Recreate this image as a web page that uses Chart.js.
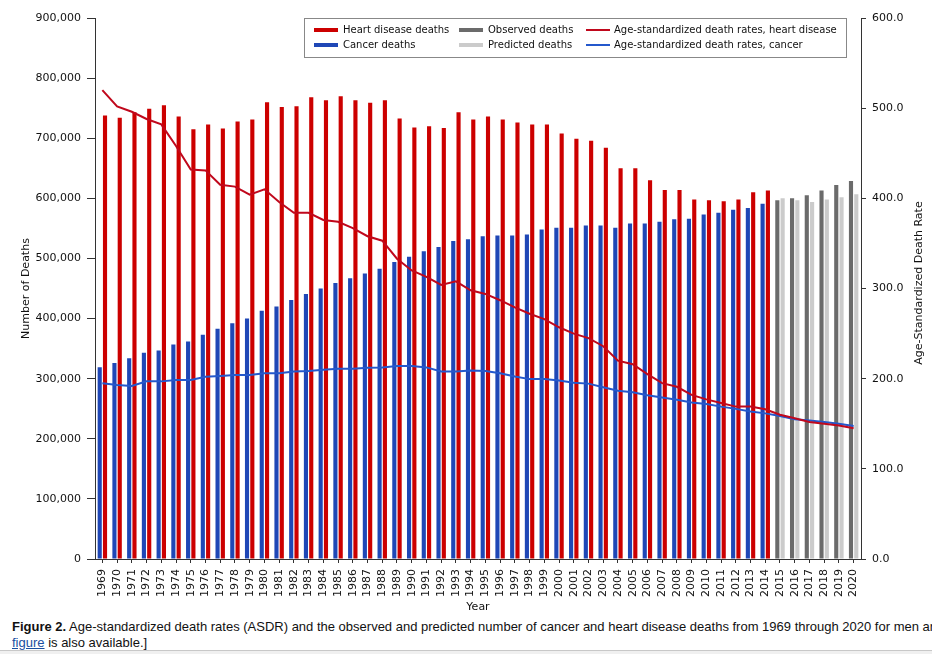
<!DOCTYPE html>
<html>
<head>
<meta charset="utf-8">
<title>Cancer and heart disease deaths, 1969-2020</title>
<script src="https://cdn.jsdelivr.net/npm/chart.js@4.4.1/dist/chart.umd.min.js"></script>
<style>
  html, body { margin: 0; padding: 0; background: #fff; overflow: hidden; }
  #wrap { position: relative; width: 932px; height: 615px; }
  #caption { position: absolute; left: 12px; top: 619px; width: 920px; font: 13px/16px "Liberation Sans", Arial, sans-serif; color: #111; white-space: nowrap; overflow: hidden; }
  #caption a { color: #1a4fa0; text-decoration: underline; }
  #rule { position: absolute; left: 0; top: 650px; width: 932px; height: 4px; background: #f0f0f0; border-top: 1px solid #c8c8c8; }
</style>
</head>
<body>
<div id="wrap"><canvas id="myChart" width="932" height="615"></canvas></div>
<div id="caption"><b>Figure 2.</b> Age-standardized death rates (ASDR) and the observed and predicted number of cancer and heart disease deaths from 1969 through 2020 for men and women.<br><a href="#">figure</a> is also available.]</div>
<div id="rule"></div>
<script>
'use strict';

const years = ['1969', '1970', '1971', '1972', '1973', '1974', '1975', '1976', '1977', '1978', '1979', '1980', '1981', '1982', '1983', '1984', '1985', '1986', '1987', '1988', '1989', '1990', '1991', '1992', '1993', '1994', '1995', '1996', '1997', '1998', '1999', '2000', '2001', '2002', '2003', '2004', '2005', '2006', '2007', '2008', '2009', '2010', '2011', '2012', '2013', '2014', '2015', '2016', '2017', '2018', '2019', '2020'];

// 1969-2014
const heartDeaths = [738000, 734000, 743000, 749000, 755000, 736000, 715000, 723000, 716000, 728000, 731000, 760000, 752000, 753000, 768000, 763000, 770000, 763000, 759000, 763000, 733000, 718000, 720000, 717000, 743000, 731000, 736000, 731000, 726000, 723000, 723000, 708000, 699000, 696000, 684000, 650000, 650000, 630000, 614000, 614000, 598000, 597000, 595000, 598000, 610000, 613000];
const cancerDeaths = [319000, 326000, 334000, 343000, 347000, 357000, 362000, 373000, 383000, 392000, 400000, 413000, 420000, 431000, 441000, 450000, 459000, 467000, 475000, 483000, 494000, 503000, 512000, 519000, 529000, 532000, 537000, 538000, 538000, 540000, 548000, 551000, 551000, 555000, 555000, 551000, 558000, 558000, 561000, 565000, 566000, 573000, 576000, 581000, 584000, 591000];

// 2015-2020
const observedDeaths = [597000, 600000, 605000, 613000, 622000, 629000];
const predictedDeaths = [600000, 597000, 594000, 598000, 602000, 607000];

// 1969-2020, per 100,000
const heartRate = [520, 502, 496, 488, 482, 458, 432, 431, 415, 413, 404, 410, 396, 384, 384, 376, 374, 367, 358, 353, 333, 320, 313, 304, 308, 298, 294, 287, 279, 272, 266, 257, 250, 245, 236, 220, 216, 205, 195, 191, 182, 177, 173, 169, 169, 166, 160, 156, 152, 150, 148, 145];
const cancerRate = [195, 193, 192, 197, 197, 198.5, 198.5, 202, 203, 204, 204, 206, 206, 208, 208.5, 210, 211, 211, 212, 212.5, 214, 214, 212.5, 208, 208, 209, 208.5, 206, 202.5, 199.5, 199.5, 198, 195.5, 194.5, 190.5, 186.5, 185, 181.5, 179, 176.5, 173.5, 172, 169, 166.5, 163.5, 161.5, 158.5, 155, 153.5, 152, 150, 147.5];

const axisColor = '#333';
const textColor = '#111';
const tickFont = { family: 'DejaVu Sans', size: 11 };

function pad(arr, before, after) {
  return Array(before).fill(null).concat(arr, Array(after).fill(null));
}

// legend drawn as a boxed 3x2 grid, like the original
const boxLegend = {
  id: 'boxLegend',
  afterDraw(chart) {
    const ctx = chart.ctx;
    const swatchX = [314, 459, 586];
    const textX = [343, 488, 614];
    const rowY = [30, 45];
    ctx.save();
    ctx.fillStyle = '#fff';
    ctx.fillRect(304, 18, 543, 40);
    ctx.strokeStyle = '#888';
    ctx.lineWidth = 1;
    ctx.strokeRect(304.5, 18.5, 542, 39);
    ctx.font = '10px "DejaVu Sans"';
    ctx.textBaseline = 'middle';
    chart.data.datasets.forEach(ds => {
      const x = swatchX[ds.legendCol];
      const y = rowY[ds.legendRow];
      ctx.fillStyle = ds.type === 'line' ? ds.borderColor : ds.backgroundColor;
      const h = ds.type === 'line' ? 2 : 4;
      ctx.fillRect(x, y - h / 2, 24, h);
      ctx.fillStyle = textColor;
      ctx.fillText(ds.label, textX[ds.legendCol], y);
    });

    // right axis title reads upward, same as the left one
    ctx.translate(919, 283);
    ctx.rotate(-Math.PI / 2);
    ctx.font = '11px "DejaVu Sans"';
    ctx.textAlign = 'center';
    ctx.fillText('Age-Standardized Death Rate', 0, 0);
    ctx.restore();
  }
};

Chart.defaults.font.family = 'DejaVu Sans';

const ctx = document.getElementById('myChart').getContext('2d');
const chart = new Chart(ctx, {
  type: 'bar',
  data: {
    labels: years,
    datasets: [
      {
        type: 'line', label: 'Age-standardized death rates, heart disease',
        data: heartRate, yAxisID: 'y1', borderColor: '#c0081c', borderWidth: 2,
        pointRadius: 0, order: 0, legendCol: 2, legendRow: 0
      },
      {
        type: 'line', label: 'Age-standardized death rates, cancer',
        data: cancerRate, yAxisID: 'y1', borderColor: '#2458cc', borderWidth: 2,
        pointRadius: 0, order: 0, legendCol: 2, legendRow: 1
      },
      {
        type: 'bar', label: 'Cancer deaths', data: pad(cancerDeaths, 0, 6),
        backgroundColor: '#1f47b6', stack: 'left', yAxisID: 'y', order: 1,
        legendCol: 0, legendRow: 1
      },
      {
        type: 'bar', label: 'Heart disease deaths', data: pad(heartDeaths, 0, 6),
        backgroundColor: '#cc0000', stack: 'right', yAxisID: 'y', order: 1,
        legendCol: 0, legendRow: 0
      },
      {
        type: 'bar', label: 'Observed deaths', data: pad(observedDeaths, 46, 0),
        backgroundColor: '#6b6b6b', stack: 'left', yAxisID: 'y', order: 1,
        legendCol: 1, legendRow: 0
      },
      {
        type: 'bar', label: 'Predicted deaths', data: pad(predictedDeaths, 46, 0),
        backgroundColor: '#cbcbcb', stack: 'right', yAxisID: 'y', order: 1,
        legendCol: 1, legendRow: 1
      }
    ]
  },
  options: {
    responsive: false,
    animation: false,
    layout: { padding: { top: 18, left: 0, right: 0, bottom: 0 } },
    datasets: { bar: { categoryPercentage: 0.72, barPercentage: 0.78 } },
    plugins: { legend: { display: false }, tooltip: { enabled: false } },
    scales: {
      x: {
        offset: true,
        grid: { drawOnChartArea: false, offset: false, tickLength: 4, color: axisColor },
        border: { color: axisColor },
        ticks: { minRotation: 90, maxRotation: 90, autoSkip: false, padding: 6, font: tickFont, color: textColor },
        title: { display: true, text: 'Year', font: tickFont, color: textColor, padding: { top: 0, bottom: 1 } },
        afterFit(scale) { scale.height = 56; }
      },
      y: {
        position: 'left', min: 0, max: 900000, stacked: false,
        grid: { drawOnChartArea: false, tickLength: 8, color: axisColor },
        border: { color: axisColor },
        ticks: { stepSize: 100000, padding: 6, font: tickFont, color: textColor, callback: v => v.toLocaleString('en-US') },
        title: { display: true, text: 'Number of Deaths', font: tickFont, color: textColor, padding: { top: 20, bottom: 0 } },
        afterFit(scale) { scale.width = 95; }
      },
      y1: {
        position: 'right', min: 0, max: 600, stacked: false,
        grid: { drawOnChartArea: false, tickLength: 5, color: axisColor },
        border: { color: axisColor },
        ticks: { stepSize: 100, padding: 6, font: tickFont, color: textColor, callback: v => v.toFixed(1) },
        afterFit(scale) { scale.width = 71; }
      }
    }
  },
  plugins: [boxLegend]
});
</script>
</body>
</html>
